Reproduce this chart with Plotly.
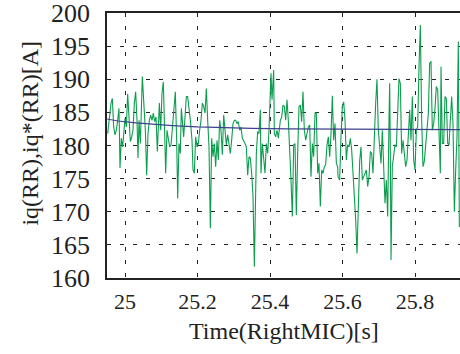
import plotly.graph_objects as go

# measured current iq(RR) [A] vs time [s]
time_iq = [
24.9519,24.9565,24.9611,24.9647,24.9684,24.9721,24.9758,24.9794,24.9831,24.9859,24.9896,24.9932,24.9969,24.9997,
25.0033,25.0070,25.0107,25.0144,25.0181,25.0217,25.0254,25.0291,25.0328,25.0355,25.0383,25.0420,25.0475,25.0521,
25.0558,25.0594,25.0631,25.0668,25.0705,25.0742,25.0778,25.0815,25.0852,25.0889,25.0916,25.0944,25.0981,25.1017,
25.1054,25.1091,
25.1119,25.1155,25.1192,25.1229,25.1266,25.1302,25.1348,25.1385,25.1422,25.1450,25.1486,25.1523,25.1551,25.1578,
25.1615,25.1652,25.1689,25.1725,25.1762,25.1799,25.1845,25.1873,25.1909,25.1946,25.1983,25.2020,25.2056,25.2093,
25.2130,25.2167,25.2204,25.2240,25.2277,25.2314,25.2351,25.2388,25.2424,25.2461,25.2498,25.2535,25.2571,25.2608,
25.2645,25.2682,
25.2719,25.2755,25.2792,25.2829,25.2866,25.2902,25.2939,25.2976,25.3013,25.3050,25.3086,25.3123,25.3160,25.3197,
25.3233,25.3270,25.3307,25.3344,25.3381,25.3417,25.3454,25.3491,25.3528,25.3565,25.3592,25.3620,25.3656,25.3693,
25.3730,25.3748,25.3785,25.3822,25.3859,25.3895,25.3932,25.3969,25.4006,25.4024,25.4052,25.4079,25.4098,25.4116,
25.4153,25.4190,25.4227,
25.4282,25.4319,25.4355,25.4392,25.4429,25.4466,25.4502,25.4539,25.4576,25.4613,25.4650,25.4686,25.4723,25.4760,
25.4797,25.4834,25.4870,25.4907,25.4944,25.4981,25.5017,25.5054,25.5091,25.5128,25.5165,25.5201,25.5238,25.5275,
25.5312,25.5348,25.5385,25.5422,25.5459,25.5496,25.5532,25.5569,25.5606,25.5643,25.5680,25.5716,25.5753,25.5790,
25.5827,25.5863,
25.5873,25.5919,25.5955,25.5992,25.6029,25.6066,25.6102,25.6139,25.6176,25.6213,25.6250,25.6286,25.6323,25.6360,
25.6397,25.6434,25.6470,25.6507,25.6544,25.6581,25.6617,25.6654,25.6691,25.6728,25.6765,25.6801,25.6838,25.6875,
25.6912,25.6948,25.6985,25.7022,25.7059,25.7096,25.7132,25.7169,25.7206,25.7243,25.7279,25.7298,25.7316,25.7335,
25.7371,25.7408,25.7445,
25.7482,25.7519,25.7555,25.7592,25.7629,25.7666,25.7702,25.7739,25.7776,25.7813,25.7850,25.7886,25.7923,25.7960,
25.7997,25.8034,25.8070,25.8107,25.8144,25.8181,25.8217,25.8254,25.8291,25.8328,25.8365,25.8401,25.8438,25.8475,
25.8512,25.8548,25.8585,25.8622,25.8659,25.8696,25.8714,25.8751,25.8788,25.8824,25.8861,25.8898,25.8935,25.8971,
25.9008,25.9045,25.9082,25.9119,25.9155,25.9192,25.9220,
]
iq_measured = [
181.8,184.3,186.4,187.1,182.8,181.6,182.3,183.8,185.6,176.6,181.1,179.8,182.3,184.1,
182.8,187.8,184.3,180.6,181.3,182.3,186.4,188.1,183.8,178.1,183.8,180.3,190.4,185.9,
182.3,175.5,181.8,183.8,184.6,183.8,184.9,183.6,184.3,179.1,182.3,186.4,182.3,187.9,
189.6,178.8,
175.8,182.3,180.8,179.8,180.1,182.3,185.9,188.1,180.8,172.0,180.3,178.8,185.6,183.8,
181.3,184.3,187.4,187.4,185.9,183.8,180.8,176.3,175.8,181.3,179.8,180.3,182.3,183.8,
186.4,185.9,184.9,188.6,183.8,179.8,167.5,181.1,178.3,180.3,176.8,180.8,177.8,183.8,
182.3,178.6,
184.6,181.6,180.1,181.6,179.8,178.8,180.8,183.3,183.8,183.8,183.3,183.6,182.3,182.8,
181.1,180.8,180.3,179.8,175.5,178.3,178.1,175.8,172.3,161.7,169.8,178.8,182.1,181.8,
185.4,175.8,180.3,178.3,175.8,180.3,178.8,182.3,187.4,190.9,186.9,189.9,191.4,181.8,
181.3,182.3,181.1,
183.8,184.3,186.1,185.9,183.8,186.9,183.8,179.8,174.8,169.3,180.1,180.3,169.5,178.8,
185.9,186.1,183.6,188.1,182.3,180.8,182.1,182.8,183.1,175.3,180.3,178.3,184.9,184.9,
175.8,177.3,170.8,176.3,175.8,176.8,177.1,180.1,181.3,178.3,181.8,187.5,180.8,183.3,
177.3,176.8,
175.3,174.8,181.3,185.9,186.6,183.8,177.8,180.1,179.8,181.1,179.3,176.3,172.8,168.8,
163.7,170.3,177.6,179.8,174.8,175.3,175.8,176.3,173.8,175.3,179.1,178.8,175.8,182.8,
186.4,190.0,182.3,179.8,177.3,182.3,175.8,171.3,174.8,169.3,183.8,189.4,178.8,162.7,
176.8,178.3,180.1,
179.8,184.3,190.1,189.4,178.8,180.8,178.3,176.8,177.8,181.3,185.4,180.8,187.4,177.8,
176.3,182.3,182.8,191.9,198.2,183.8,176.8,177.6,179.8,182.3,184.9,192.4,192.7,182.3,
183.3,185.6,188.9,188.4,182.3,175.8,191.9,180.3,180.3,187.4,187.1,180.3,180.1,184.3,
187.4,183.3,170.0,176.3,181.3,195.7,167.7,
]

# reference current iq*(RR) [A]
time_ref = [24.95, 24.98, 25.03, 25.09, 25.13, 25.20, 25.26, 25.35, 25.45, 25.60, 25.924]
iq_reference = [184.0, 183.7, 183.4, 183.1, 183.0, 182.8, 182.7, 182.6, 182.5, 182.45, 182.4]

x_ticks = [25.0, 25.2, 25.4, 25.6, 25.8]
x_tick_labels = ["25", "25.2", "25.4", "25.6", "25.8"]
y_ticks = [160, 165, 170, 175, 180, 185, 190, 195, 200]

FONT = "Liberation Serif"

fig = go.Figure()
fig.add_trace(go.Scatter(x=time_iq, y=iq_measured, mode="lines",
                         line=dict(color="#0c9e4e", width=1.1), showlegend=False))
fig.add_trace(go.Scatter(x=time_ref, y=iq_reference, mode="lines",
                         line=dict(color="#40408f", width=1.2), showlegend=False))

fig.update_layout(
    width=460, height=354,
    margin=dict(l=107, r=0, t=13, b=76),
    paper_bgcolor="white", plot_bgcolor="white",
    font=dict(family=FONT, color="#222222", size=22),
    xaxis=dict(range=[24.95, 25.9238], tickvals=x_ticks, ticktext=x_tick_labels,
               showgrid=True, gridcolor="#222222", gridwidth=1, griddash="4px,9px",
               showline=True, linecolor="#222222", linewidth=1.5, mirror=True,
               ticks="", zeroline=False, ticklabelstandoff=3,
               tickfont=dict(family=FONT, size=22, color="#222222")),
    yaxis=dict(range=[160, 200], tickvals=y_ticks,
               showgrid=True, gridcolor="#222222", gridwidth=1, griddash="4px,9px",
               showline=True, linecolor="#222222", linewidth=1.5,
               ticks="", zeroline=False, ticklabelstandoff=10,
               ticklabeloverflow="allow",
               tickfont=dict(family=FONT, size=26, color="#222222")),
    annotations=[
        dict(text="Time(RightMIC)[s]", xref="paper", yref="paper", x=0.5, y=-0.258,
             showarrow=False, font=dict(family=FONT, size=24, color="#222222"),
             xanchor="center", yanchor="bottom"),
        dict(text="iq(RR),iq*(RR)[A]", xref="paper", yref="paper", x=-0.218, y=0.545,
             showarrow=False, textangle=-90, font=dict(family=FONT, size=24, color="#222222"),
             xanchor="center", yanchor="middle"),
    ],
)

fig.write_html("out.html")
